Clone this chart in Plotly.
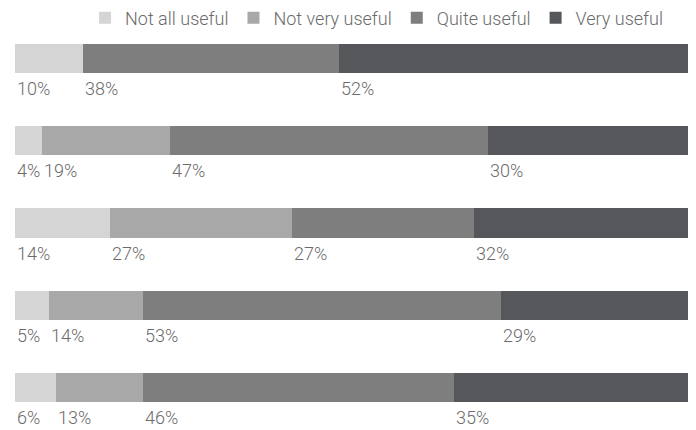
import plotly.graph_objects as go

categories = ["Not all useful", "Not very useful", "Quite useful", "Very useful"]
rows = [0, 1, 2, 3, 4]
not_all_useful = [10, 4, 14, 5, 6]
not_very_useful = [0, 19, 27, 14, 13]
quite_useful = [38, 47, 27, 53, 46]
very_useful = [52, 30, 32, 29, 35]

series = [not_all_useful, not_very_useful, quite_useful, very_useful]
colors = ["#d5d5d5", "#a8a8a9", "#7e7e7f", "#56575b"]
FONT = "Roboto"
TEXT = "#6b6b6b"

fig = go.Figure()
for name, vals, col in zip(categories, series, colors):
    fig.add_trace(go.Bar(
        y=rows, x=vals, name=name, orientation="h",
        marker=dict(color=col, line=dict(width=0)),
        width=0.355, hoverinfo="skip",
    ))

# value labels placed at the start of each segment, below the bar
for r in rows:
    start = 0
    for vals in series:
        v = vals[r]
        if v > 0:
            fig.add_annotation(
                x=start, y=r, text=f"{v}%", showarrow=False,
                xanchor="left", yanchor="middle", yshift=-30,
                font=dict(family=FONT, size=18, color=TEXT, weight=300),
            )
        start += v

# the page body adds an 8px offset, so the figure is sized to fit the window
fig.update_layout(
    barmode="stack",
    width=688, height=422,
    margin=dict(l=7, r=6, t=32, b=10, autoexpand=False),
    paper_bgcolor="white", plot_bgcolor="white",
    bargap=0,
    xaxis=dict(range=[0, 100], visible=False, fixedrange=True),
    yaxis=dict(range=[4.395, -0.225], visible=False, fixedrange=True),
    showlegend=True,
    legend=dict(
        orientation="h", x=0.9675, xanchor="right", y=1.058, yanchor="middle",
        font=dict(family=FONT, size=18, color=TEXT, weight=300),
        traceorder="normal", bgcolor="rgba(0,0,0,0)",
    ),
    font=dict(family=FONT, color=TEXT),
)

fig.write_html("out.html")
